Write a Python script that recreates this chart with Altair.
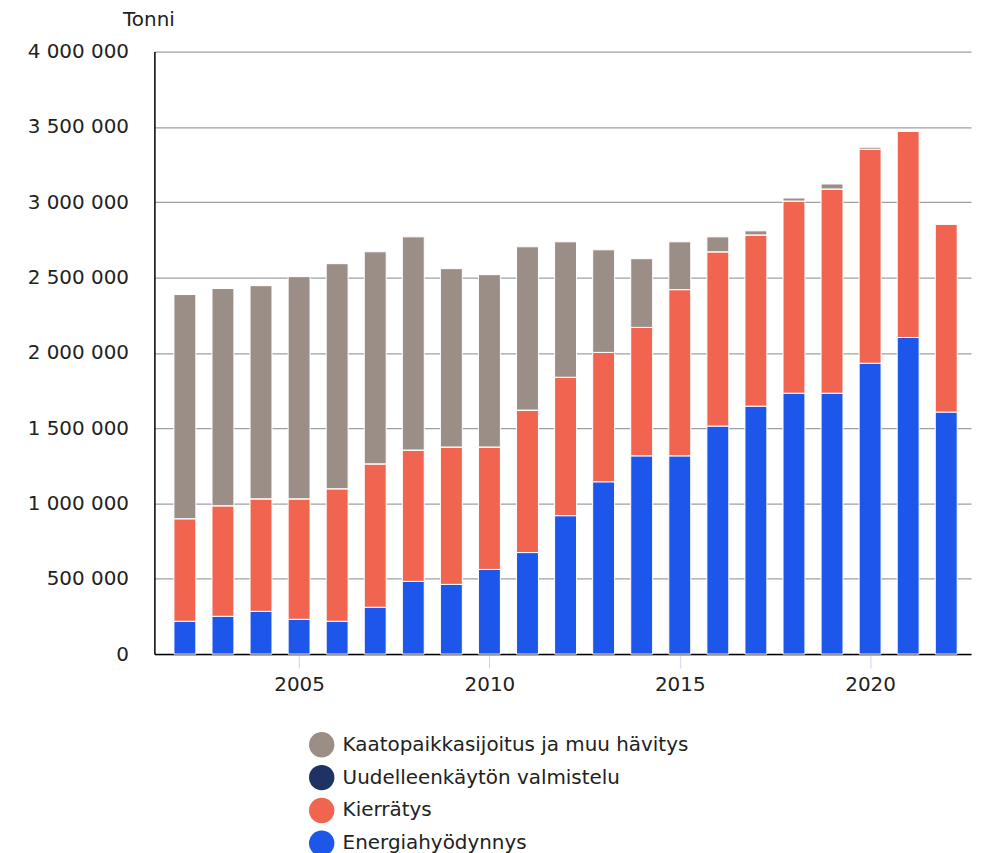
import altair as alt
import pandas as pd

years = list(range(2002, 2023))
series = ["Kaatopaikkasijoitus ja muu hävitys", "Uudelleenkäytön valmistelu", "Kierrätys", "Energiahyödynnys"]
colors = ["#9b8e87", "#1e3264", "#f06450", "#1c56eb"]

energia = [218000, 251000, 284000, 231000, 218000, 311000, 483000, 463000, 562000, 674000, 919000,
           1144000, 1316000, 1316000, 1514000, 1646000, 1732000, 1732000, 1931000, 2102000, 1607000]
kierratys = [681000, 734000, 747000, 800000, 880000, 952000, 872000, 912000, 813000, 946000, 919000,
             859000, 853000, 1104000, 1157000, 1137000, 1276000, 1356000, 1421000, 1369000, 1249000]
uudelleen = [0] * 21
kaatopaikka = [1488000, 1442000, 1415000, 1475000, 1494000, 1408000, 1415000, 1184000, 1144000, 1084000, 899000,
               681000, 456000, 317000, 99000, 27000, 20000, 33000, 13000, 0, 0]

rows = []
for i, y in enumerate(years):
    rows.append({"year": y, "series": series[3], "value": energia[i], "ord": 0})
    rows.append({"year": y, "series": series[2], "value": kierratys[i], "ord": 1})
    rows.append({"year": y, "series": series[1], "value": uudelleen[i], "ord": 2})
    rows.append({"year": y, "series": series[0], "value": kaatopaikka[i], "ord": 3})
df = pd.DataFrame(rows)

FONT = "DejaVu Sans"
FS = 20

chart = alt.Chart(df).mark_bar(size=22, stroke="white", strokeWidth=1).encode(
    x=alt.X("year:Q",
            scale=alt.Scale(domain=[2001.33, 2022.52], nice=False, zero=False),
            axis=alt.Axis(values=[2005, 2010, 2015, 2020], format="d", title=None, grid=False,
                          domainColor="#000000", domainWidth=1.5, tickColor="#ccd6eb", tickSize=14,
                          tickWidth=1, labelPadding=7, labelFontSize=FS, labelColor="#222222",
                          labelFont=FONT)),
    y=alt.Y("value:Q", stack="zero",
            scale=alt.Scale(domain=[0, 4000000], nice=False),
            axis=alt.Axis(values=[0, 500000, 1000000, 1500000, 2000000, 2500000, 3000000, 3500000, 4000000],
                          labelExpr="replace(format(datum.value, ','), /,/g, ' ')",
                          title="Tonni", titleAngle=0, titleX=-6, titleY=-26, titleAlign="center",
                          titleBaseline="alphabetic", titleFontSize=FS, titleFontWeight="normal",
                          titleColor="#222222", titleFont=FONT,
                          ticks=False, labelPadding=26, labelFontSize=FS, labelColor="#222222",
                          labelFont=FONT, domainColor="#000000", domainWidth=1.5,
                          gridColor="#a0a0a0", gridWidth=1.3)),
    color=alt.Color("series:N", scale=alt.Scale(domain=series, range=colors),
                    legend=alt.Legend(title=None, orient="none", legendX=155, legendY=683,
                                      direction="vertical", symbolType="circle", symbolSize=650,
                                      symbolStrokeWidth=0, labelFontSize=FS, labelFont=FONT,
                                      labelColor="#222222", rowPadding=7, symbolOffset=0,
                                      labelOffset=8, labelLimit=500)),
    order=alt.Order("ord:Q", sort="ascending"),
).properties(
    width=820, height=605,
    autosize=alt.AutoSizeParams(type="none"),
    padding={"left": 147, "top": 42, "right": 5, "bottom": 210},
).configure_view(stroke=None)

chart.save("out.html", embed_options={"renderer": "svg", "actions": False})
